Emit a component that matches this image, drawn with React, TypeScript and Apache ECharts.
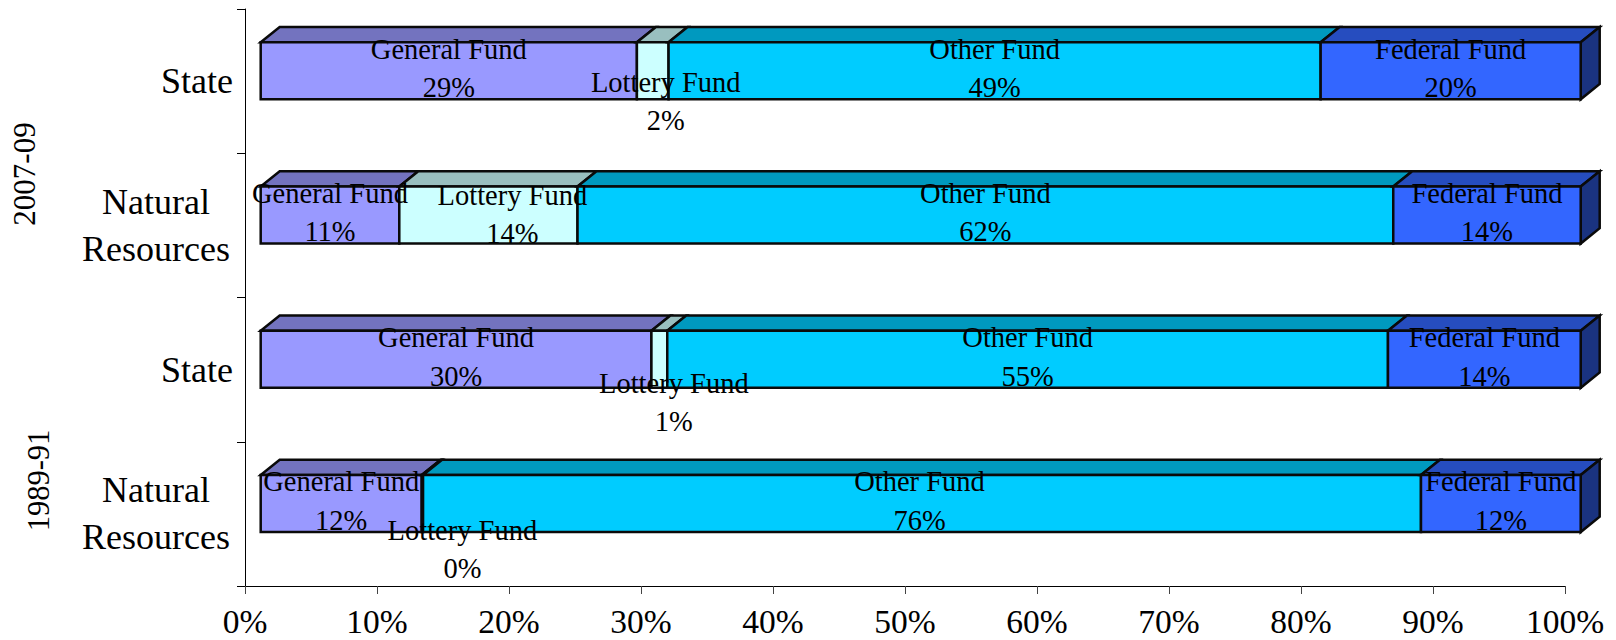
import React, { useEffect, useRef } from "react";
import * as echarts from "echarts";

const categories = ["State", "Natural\nResources", "State", "Natural\nResources"];
const periods = ["2007-09", "1989-91"];
const ticks = [0, 10, 20, 30, 40, 50, 60, 70, 80, 90, 100];

const fundNames = ["General Fund", "Lottery Fund", "Other Fund", "Federal Fund"];
const generalFund = [28.5, 10.5, 29.6, 12.2];
const lotteryFund = [2.4, 13.5, 1.2, 0.1];
const otherFund = [49.4, 61.8, 54.6, 75.6];
const federalFund = [19.7, 14.2, 14.6, 12.1];
const generalLabels = ["29%", "11%", "30%", "12%"];
const lotteryLabels = ["2%", "14%", "1%", "0%"];
const otherLabels = ["49%", "62%", "55%", "76%"];
const federalLabels = ["20%", "14%", "14%", "12%"];

const fundValues = [generalFund, lotteryFund, otherFund, federalFund];
const fundLabels = [generalLabels, lotteryLabels, otherLabels, federalLabels];
const frontColors = ["#9999FF", "#CCFFFF", "#00CCFF", "#3366FF"];
const topColors = ["#7373BF", "#99BFBF", "#0099BF", "#264DBF"];
const sideColor = "#1A3380";

const SERIF = '"Liberation Serif", "Times New Roman", serif';
const FRONT_DX = 15.7;
const FRONT_DY = -10.3;
const FRONT_H = 57;
const DEPTH_X = 19;
const DEPTH_Y = 15.3;
const LABEL_DY = -12.7;
// Manual label displacement of the thin Lottery Fund segments, per row [dx, dy].
const lotteryLabelShift = [
  [13, 33],
  [24, 2],
  [14.5, 45.7],
  [40, 48.2],
];
const otherLabelShift = [
  [0, 0],
  [0, 0],
  [0, 0],
  [-2.5, 0],
];

function cumulativeRows() {
  const rows: any[] = [];
  categories.forEach((_, r) => {
    let acc = 0;
    fundValues.forEach((vals, f) => {
      rows.push([acc, acc + vals[r], r, f]);
      acc += vals[r];
    });
  });
  return rows;
}

function renderBar(params: any, api: any) {
  const start = api.value(0);
  const end = api.value(1);
  const row = api.value(2);
  const fund = api.value(3);
  const a = api.coord([start, row]);
  const b = api.coord([end, row]);
  const x0 = a[0] + FRONT_DX;
  const x1 = b[0] + FRONT_DX;
  const y0 = a[1] + FRONT_DY - FRONT_H / 2;
  const y1 = y0 + FRONT_H;
  const stroke = { stroke: "#0a0a0a", lineWidth: 2.5, lineJoin: "miter" };
  const children: any[] = [
    {
      type: "polygon",
      shape: { points: [[x0, y0], [x0 + DEPTH_X, y0 - DEPTH_Y], [x1 + DEPTH_X, y0 - DEPTH_Y], [x1, y0]] },
      style: { fill: topColors[fund], ...stroke },
    },
  ];
  if (fund === fundValues.length - 1) {
    children.push({
      type: "polygon",
      shape: { points: [[x1, y0], [x1 + DEPTH_X, y0 - DEPTH_Y], [x1 + DEPTH_X, y1 - DEPTH_Y], [x1, y1]] },
      style: { fill: sideColor, ...stroke },
    });
  }
  children.push({
    type: "rect",
    shape: { x: x0, y: y0, width: x1 - x0, height: FRONT_H },
    style: { fill: frontColors[fund], ...stroke },
  });
  return { type: "group", children };
}

function renderLabel(params: any, api: any) {
  const start = api.value(0);
  const end = api.value(1);
  const row = api.value(2);
  const fund = api.value(3);
  const p = api.coord([(start + end) / 2, row]);
  const shift = fund === 1 ? lotteryLabelShift[row] : fund === 2 ? otherLabelShift[row] : [0, 0];
  return {
    type: "text",
    style: {
      text: fundNames[fund] + "\n" + fundLabels[fund][row],
      x: p[0] + FRONT_DX + shift[0],
      y: p[1] + LABEL_DY + shift[1],
      fill: "#000",
      fontFamily: SERIF,
      fontSize: 28.5,
      lineHeight: 38.5,
      align: "center",
      verticalAlign: "middle",
    },
  };
}

export default function App() {
  const ref = useRef<HTMLDivElement>(null);
  useEffect(() => {
    const chart = echarts.init(ref.current!, null, { renderer: "svg" });
    const rows = cumulativeRows();
    chart.setOption({
      animation: false,
      backgroundColor: "#fff",
      grid: { left: 245, right: 51, top: 9, bottom: 54, containLabel: false },
      xAxis: {
        type: "value",
        min: ticks[0],
        max: ticks[ticks.length - 1],
        interval: 10,
        splitLine: { show: false },
        axisLine: { show: true, lineStyle: { color: "#000", width: 1 } },
        axisTick: { show: true, length: 8, lineStyle: { color: "#444", width: 1 } },
        axisLabel: {
          margin: 18,
          color: "#000",
          fontFamily: SERIF,
          fontSize: 33.5,
          formatter: "{value}%",
          hideOverlap: false,
        },
      },
      yAxis: {
        type: "category",
        inverse: true,
        data: categories,
        axisLine: { show: true, onZero: false, lineStyle: { color: "#000", width: 1 } },
        axisTick: { show: true, length: 8, alignWithLabel: false, lineStyle: { color: "#000", width: 1 } },
        axisLabel: {
          margin: 12,
          color: "#000",
          fontFamily: SERIF,
          fontSize: 36,
          align: "right",
          interval: 0,
          formatter: (v: string) =>
            v.includes("\n") ? v.split("\n").map((s) => `{c|${s}}`).join("\n") : v,
          rich: {
            c: {
              width: 154,
              align: "center",
              fontFamily: SERIF,
              fontSize: 36,
              lineHeight: 47,
              color: "#000",
            },
          },
        },
      },
      series: [
        {
          type: "custom",
          name: "bars",
          coordinateSystem: "cartesian2d",
          data: rows,
          clip: false,
          silent: true,
          z: 3,
          encode: { x: [0, 1], y: 2 },
          renderItem: renderBar,
        },
        {
          type: "custom",
          name: "labels",
          coordinateSystem: "cartesian2d",
          data: rows,
          clip: false,
          silent: true,
          z: 5,
          encode: { x: [0, 1], y: 2 },
          renderItem: renderLabel,
        },
      ],
      graphic: [
        {
          type: "text",
          x: 24,
          y: 174,
          rotation: Math.PI / 2,
          style: { text: periods[0], fontFamily: SERIF, fontSize: 31, fill: "#000", align: "center", verticalAlign: "middle" },
        },
        {
          type: "text",
          x: 39,
          y: 480.5,
          rotation: Math.PI / 2,
          style: { text: periods[1], fontFamily: SERIF, fontSize: 30.5, fill: "#000", align: "center", verticalAlign: "middle" },
        },
      ],
    });
    return () => chart.dispose();
  }, []);
  return (
    <div
      ref={ref}
      style={{ position: "absolute", left: 0, top: 0, width: 1616, height: 640 }}
    />
  );
}
